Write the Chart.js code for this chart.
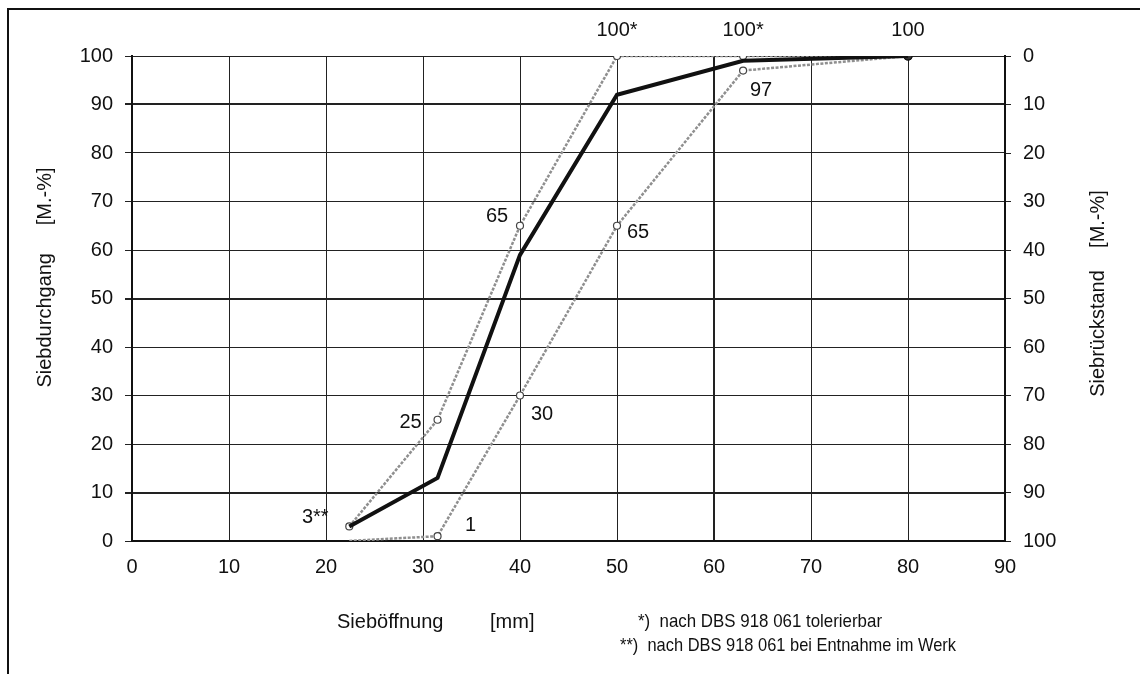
<!DOCTYPE html>
<html>
<head>
<meta charset="utf-8">
<script src="https://cdn.jsdelivr.net/npm/chart.js@4"></script>
<style>
  html, body { margin: 0; padding: 0; background: #fff; }
  #wrap { width: 1140px; height: 674px; position: relative; }
</style>
</head>
<body>
<div id="wrap"><canvas id="sieveChart" width="1140" height="674"></canvas></div>
<script>
// sieve sizes [mm] and passing percentages
const sieveSizes = [22.4, 31.5, 40, 50, 63, 80];
const upperLimit = [3, 25, 65, 100, 100, 100];
const lowerLimit = [0, 1, 30, 65, 97, 100];
const passing = [3, 13, 59, 92, 99, 100];

const upperLabels = ["3**", "25", "65", "100*", "100*", "100"];
const lowerLabels = ["", "1", "30", "65", "97", ""];

const xTicks = [0, 10, 20, 30, 40, 50, 60, 70, 80, 90];
const yTicks = [0, 10, 20, 30, 40, 50, 60, 70, 80, 90, 100];

const FONT = "'Liberation Sans', Arial, sans-serif";
const LIMIT_GRAY = "#8f8f8f";

function toPoints(values) {
    return sieveSizes.map((x, i) => ({ x: x, y: values[i] }));
}

// label offsets from their point, in pixels
const upperOffsets = [[-34, -9], [-27, 3], [-23, -9], [0, -26], [0, -26], [0, -26]];
const lowerOffsets = [[0, 0], [33, -11], [22, 19], [21, 7], [18, 20], [0, 0]];

const labelPlugin = {
    id: "labels",
    afterDatasetsDraw(chart) {
        const ctx = chart.ctx;
        const xs = chart.scales.x;
        const ys = chart.scales.y;
        ctx.save();
        ctx.fillStyle = "#111";
        ctx.font = "20px " + FONT;
        ctx.textAlign = "center";
        ctx.textBaseline = "middle";
        sieveSizes.forEach((s, i) => {
            if (upperLabels[i]) {
                ctx.fillText(upperLabels[i],
                    xs.getPixelForValue(s) + upperOffsets[i][0],
                    ys.getPixelForValue(upperLimit[i]) + upperOffsets[i][1]);
            }
            if (lowerLabels[i]) {
                ctx.fillText(lowerLabels[i],
                    xs.getPixelForValue(s) + lowerOffsets[i][0],
                    ys.getPixelForValue(lowerLimit[i]) + lowerOffsets[i][1]);
            }
        });
        ctx.restore();
    },
    afterDraw(chart) {
        const ctx = chart.ctx;
        const area = chart.chartArea;
        const midY = (area.top + area.bottom) / 2;
        ctx.save();
        // outer frame (left and top only)
        ctx.strokeStyle = "#111";
        ctx.lineWidth = 2;
        ctx.beginPath();
        ctx.moveTo(8, 674);
        ctx.lineTo(8, 9);
        ctx.lineTo(1140, 9);
        ctx.stroke();

        ctx.fillStyle = "#111";
        ctx.font = "20px " + FONT;
        ctx.textBaseline = "middle";

        // left axis title
        ctx.save();
        ctx.translate(45, midY - 21);
        ctx.rotate(-Math.PI / 2);
        ctx.textAlign = "center";
        ctx.fillText("Siebdurchgang     [M.-%]", 0, 0);
        ctx.restore();

        // right axis title
        ctx.save();
        ctx.translate(1098, midY - 5);
        ctx.rotate(-Math.PI / 2);
        ctx.textAlign = "center";
        ctx.fillText("Siebrückstand    [M.-%]", 0, 0);
        ctx.restore();

        // x axis title
        ctx.textAlign = "left";
        ctx.fillText("Sieböffnung", 337, 622);
        ctx.fillText("[mm]", 490, 622);

        // footnotes (condensed via maxWidth)
        ctx.font = "19px " + FONT;
        ctx.fillText("*)  nach DBS 918 061 tolerierbar", 638, 622, 244);
        ctx.fillText("**)  nach DBS 918 061 bei Entnahme im Werk", 620, 646, 336);
        ctx.restore();
    }
};

const ctx = document.getElementById("sieveChart").getContext("2d");

new Chart(ctx, {
    type: "line",
    data: {
        datasets: [
            {
                label: "Grenzlinie oben",
                data: toPoints(upperLimit),
                borderColor: LIMIT_GRAY,
                borderWidth: 2.5,
                borderDash: [3, 1.5],
                pointRadius: [3.5, 3.5, 3.5, 3.5, 3.5, 4],
                pointBorderWidth: 1.2,
                pointBorderColor: ["#444", "#444", "#444", "#444", "#444", "#111"],
                pointBackgroundColor: ["#fff", "#fff", "#fff", "#fff", "#fff", "#333"],
                tension: 0,
                order: 2
            },
            {
                label: "Grenzlinie unten",
                data: toPoints(lowerLimit),
                borderColor: LIMIT_GRAY,
                borderWidth: 2.5,
                borderDash: [3, 1.5],
                pointRadius: [0, 3.5, 3.5, 3.5, 3.5, 4],
                pointBorderWidth: 1.2,
                pointBorderColor: ["#444", "#444", "#444", "#444", "#444", "#111"],
                pointBackgroundColor: ["#fff", "#fff", "#fff", "#fff", "#fff", "#333"],
                tension: 0,
                order: 3
            },
            {
                label: "Sieblinie",
                data: toPoints(passing),
                borderColor: "#111",
                borderWidth: 4,
                pointRadius: 0,
                tension: 0,
                order: 1
            }
        ]
    },
    options: {
        responsive: false,
        animation: false,
        events: [],
        layout: {
            padding: { top: 56, left: 0, right: 0, bottom: 0 }
        },
        plugins: {
            legend: { display: false },
            tooltip: { enabled: false }
        },
        scales: {
            x: {
                type: "linear",
                min: 0,
                max: 90,
                afterBuildTicks: (scale) => {
                    scale.ticks = xTicks.map(v => ({ value: v }));
                },
                afterFit: (scale) => { scale.height = 133; },
                ticks: {
                    color: "#111",
                    font: { family: FONT, size: 20 },
                    padding: 14,
                    maxRotation: 0
                },
                grid: {
                    color: "#222",
                    lineWidth: (c) => (c.tick && c.tick.value === 60 ? 2 : 1),
                    tickLength: 0
                },
                border: { color: "#111", width: 2 }
            },
            y: {
                type: "linear",
                position: "left",
                min: 0,
                max: 100,
                afterBuildTicks: (scale) => {
                    scale.ticks = yTicks.map(v => ({ value: v }));
                },
                afterFit: (scale) => { scale.width = 132; },
                ticks: {
                    color: "#111",
                    font: { family: FONT, size: 20 },
                    padding: 12
                },
                grid: {
                    color: "#222",
                    lineWidth: (c) => (c.tick && [90, 50, 10].includes(c.tick.value) ? 2 : 1),
                    tickLength: 7
                },
                border: { color: "#111", width: 2 }
            },
            y2: {
                type: "linear",
                position: "right",
                reverse: true,
                min: 0,
                max: 100,
                afterBuildTicks: (scale) => {
                    scale.ticks = yTicks.map(v => ({ value: v }));
                },
                afterFit: (scale) => { scale.width = 135; },
                ticks: {
                    color: "#111",
                    font: { family: FONT, size: 20 },
                    padding: 12
                },
                grid: {
                    color: "#222",
                    drawOnChartArea: false,
                    tickLength: 6
                },
                border: { color: "#111", width: 2 }
            }
        }
    },
    plugins: [labelPlugin]
});
</script>
</body>
</html>
